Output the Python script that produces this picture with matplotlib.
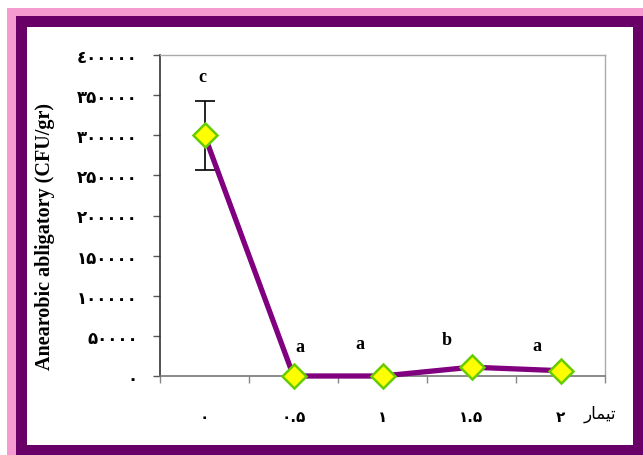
import matplotlib
matplotlib.use('Agg')
import matplotlib.pyplot as plt
from matplotlib.patches import Rectangle
import numpy as np

# ---------------- data ----------------
categories = ['۰', '۰.۵', '۱', '۱.۵', '۲']
values = [300000, 0, 0, 11000, 6600]
errors = [43000, 0, 0, 0, 0]
letters = ['c', 'a', 'a', 'b', 'a']
y_ticks = [0, 50000, 100000, 150000, 200000, 250000, 300000, 350000, 400000]
y_tick_labels = ['۰', '۵۰۰۰۰', '۱۰۰۰۰۰', '۱۵۰۰۰۰', '۲۰۰۰۰۰',
                 '۲۵۰۰۰۰', '۳۰۰۰۰۰', '۳۵۰۰۰۰', '٤۰۰۰۰۰']
x_title = '\uFEAD\uFE8E\uFEE4\uFEF4\uFE97'   # تیمار (shaped, visual order)
y_title = 'Anearobic abligatory (CFU/gr)'

# layout of letter labels (category offset, height in data units)
letter_dx = [-0.02, 0.07, -0.25, -0.28, -0.27]
letter_y = [372800, 36200, 39900, 46100, 37400]

W, H = 643, 456
fig = plt.figure(figsize=(W / 100, H / 100), dpi=100)
fig.patch.set_facecolor('white')


def px_rect(x0, y0, x1, y1, color):
    fig.patches.append(Rectangle((x0 / W, 1 - y1 / H), (x1 - x0) / W, (y1 - y0) / H,
                                 transform=fig.transFigure, facecolor=color,
                                 edgecolor='none', zorder=-10))


px_rect(7, 9, 680, 480, '#F59BCF')
px_rect(16, 17, 680, 480, '#680068')
px_rect(27, 28, 633, 446, 'white')

ax = fig.add_axes([160 / W, 1 - 377 / H, 445 / W, 321 / H])
x = np.arange(len(categories))
ax.set_xlim(-0.5, len(categories) - 0.5)
ax.set_ylim(0, 400000)

vals = np.array(values, dtype=float)
errs = np.array(errors, dtype=float)
mask = errs > 0
ax.errorbar(x[mask], vals[mask], yerr=errs[mask], fmt='none', ecolor='black',
            elinewidth=1.2, capsize=7, capthick=1.2, zorder=2)
ax.plot(x, vals, color='#800080', lw=3.8, zorder=3, clip_on=False,
        solid_joinstyle='round')
ax.plot(x, vals, 'D', ms=12, mfc='#FFFF00', mec='#66CC00', mew=1.8,
        zorder=4, clip_on=False)

for i, lab in enumerate(letters):
    ax.text(x[i] + letter_dx[i], letter_y[i], lab, ha='center', va='center',
            fontfamily='Liberation Serif', fontweight='bold', fontsize=13)

# axes styling
ax.set_yticks(y_ticks)
ax.set_yticklabels(y_tick_labels, fontfamily='DejaVu Sans', fontweight='bold',
                   fontsize=12)
ax.tick_params(axis='y', direction='out', length=5, width=1, pad=11,
               color='#555555')
ax.set_xticks(x)
ax.set_xticklabels(categories, fontfamily='DejaVu Sans', fontweight='bold',
                   fontsize=11)
ax.set_xticks(np.arange(-0.5, len(categories)), minor=True)
ax.tick_params(axis='x', which='major', length=0, pad=24)
ax.tick_params(axis='x', which='minor', direction='out', length=5, width=1,
               color='#888888')

ax.spines['left'].set_color('#333333')
ax.spines['left'].set_linewidth(1.2)
ax.spines['bottom'].set_color('#777777')
ax.spines['bottom'].set_linewidth(1.2)
for s in ('top', 'right'):
    ax.spines[s].set_color('#AAAAAA')
    ax.spines[s].set_linewidth(1.0)

fig.text(45 / W, 1 - 236 / H, y_title, rotation=90, ha='center', va='center',
         fontfamily='Liberation Serif', fontweight='bold', fontsize=14.5)
fig.text(600 / W, 1 - 414 / H, x_title, ha='center', va='center',
         fontfamily='DejaVu Sans', fontsize=12)

fig.savefig('out.png', dpi=100)
